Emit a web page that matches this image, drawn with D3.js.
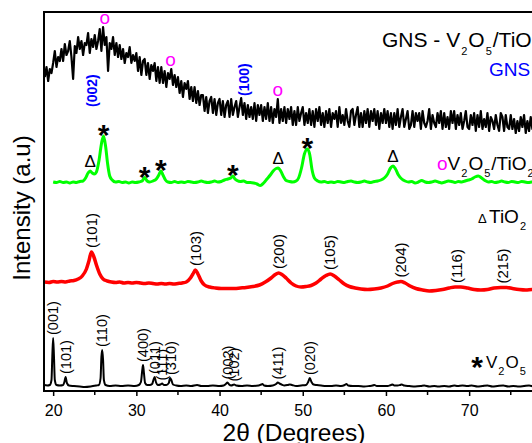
<!DOCTYPE html>
<html>
<head>
<meta charset="utf-8">
<script src="https://cdnjs.cloudflare.com/ajax/libs/d3/7.8.5/d3.min.js"></script>
<style>
  body { margin: 0; background: #fff; }
  svg { display: block; font-family: "Liberation Sans", Arial, sans-serif; }
</style>
</head>
<body>
<div id="chart"></div>
<script>
// 2-theta ticks
var majorTicks = [20, 30, 40, 50, 60, 70, 80];
var minorTicks = [25, 35, 45, 55, 65, 75];

// stacking offset of each pattern (a.u.)
var series = ["V2O5", "TiO2", "V2O5/TiO2", "GNS - V2O5/TiO2"];
var offsets = [3, 100, 205, 250];

// [2theta, intensity]
var v2o5 = [[18.9,3],[19.3,2.5],[19.6,3],[19.8,8],[19.9,32],[20.0,50],[20.1,31],[20.2,8],[20.4,3],[20.8,2.5],[21.2,3],[21.35,6],
  [21.5,11],[21.65,5],[21.9,2.5],[22.5,2],[23.2,1.5],[23.8,1],[24.5,1.5],[25.2,2.5],[25.5,3],[25.7,10],[25.8,31],[25.9,38],
  [26.0,28],[26.1,8],[26.3,3],[26.8,2],[27.5,2.5],[28.2,2],[29.0,2.5],[29.8,2],[30.3,3],[30.55,6],[30.7,17],[30.8,23],
  [30.9,16],[31.05,5],[31.3,3],[31.6,3],[31.9,4],[32.05,8],[32.2,11],[32.35,6],[32.6,3],[32.9,3.5],[33.1,4.5],[33.3,3],
  [33.6,3],[33.9,5],[34.05,10],[34.2,8],[34.4,3.5],[34.8,2.5],[35.3,2],[36.0,2.5],[36.6,2],[37.3,3],[37.8,2],[38.5,2],
  [39.2,2.5],[40.0,2],[40.5,2.5],[40.75,4],[40.95,5.5],[41.15,3.5],[41.4,2.5],[41.75,3.5],[42.0,2.5],[42.6,2],[43.3,2.5],
  [44.0,2],[44.7,2.5],[45.0,3.5],[45.15,4],[45.35,2.5],[45.8,2],[46.4,2.5],[46.8,4],[47.0,5.5],[47.2,4.5],[47.45,3.5],
  [47.8,2.5],[48.2,3],[48.45,3.5],[48.7,3],[49.2,2],[49.8,2.5],[50.4,3],[50.65,6],[50.85,10],[51.05,6],[51.3,3.5],[51.7,3],
  [52.2,2.5],[52.8,2],[53.4,2],[54.0,2.5],[54.6,2],[55.05,3],[55.25,4],[55.45,2.5],[56.0,2],[56.7,2],[57.4,1.5],[58.0,2],
  [58.4,2.5],[58.6,3],[58.9,2],[59.5,2],[60.2,2],[60.6,3],[60.8,3.5],[61.0,2.5],[61.4,2.5],[61.7,3],[61.9,3.5],[62.2,2.5],
  [62.8,2],[63.5,1.5],[64.2,2],[64.6,2.5],[65.2,1.5],[65.8,2],[66.3,1.5],[67.0,2],[67.6,1.5],[68.2,2.5],[68.6,2],[69.2,2.5],
  [69.8,2],[70.3,2.5],[71.0,1.5],[71.6,2],[72.2,2.5],[72.8,1.5],[73.4,2],[74.1,2.5],[74.7,1.5],[75.3,2],[76.0,1.5],[76.6,2],
  [77.2,2.5],[77.8,1.5],[78.5,2],[79.2,1.5],[80,2]];

var tio2 = [[18.9,9],[19.5,8.5],[20.0,9.5],[20.5,9],[21.0,9.5],[21.5,9],[22.0,10],[22.5,10.5],[23.0,12],[23.5,15],[24.0,22],
  [24.3,30],[24.6,39],[24.9,34],[25.2,26],[25.6,17],[26.0,12],[26.5,10],[27.0,9],[27.5,8.5],[28.0,9],[28.5,8],[29.0,8.5],
  [29.5,8],[30.0,8.5],[30.5,8],[31.0,7.5],[31.5,8],[32.0,7.5],[32.5,7],[33.0,7.5],[33.5,7],[34.0,7.5],[34.5,7],[35.0,7.5],
  [35.5,8],[36.0,9],[36.5,13],[36.8,17],[37.1,21],[37.4,17],[37.8,10],[38.2,6],[38.8,4],[39.5,3],[40.2,2.5],[41.0,2.5],
  [41.8,2.5],[42.5,3],[43.2,3.5],[44.0,4.5],[44.8,6],[45.5,9],[46.2,13],[46.7,16.5],[47.1,18],[47.5,16.5],[48.0,13],
  [48.6,8],[49.2,5],[49.8,4],[50.4,4.5],[51.0,5.5],[51.6,8],[52.2,12],[52.8,15.5],[53.3,17],[53.8,15],[54.4,11],[55.0,7],
  [55.6,4.5],[56.3,3],[57.0,2],[57.8,1.5],[58.6,2],[59.4,3],[60.2,5],[60.8,7.5],[61.4,9],[61.8,9.5],[62.3,8],[62.9,5],
  [63.6,2.5],[64.4,1],[65.2,0],[66.0,0.5],[66.8,1.5],[67.6,3],[68.3,4],[69.0,4],[69.8,3],[70.6,1.5],[71.4,1],[72.2,1.5],
  [73.0,3],[73.8,3.5],[74.5,3.5],[75.2,2.5],[76.0,1.5],[76.8,1],[77.6,1.5],[78.4,1],[79.2,1],[80,1]];

var vTio2 = [[20.0,4],[20.4,3.5],[20.8,4.5],[21.2,3.5],[21.6,4],[22.0,3],[22.4,4],[22.8,3.5],[23.2,4.5],[23.6,5],[23.9,8],
  [24.2,13],[24.45,15],[24.7,13],[24.95,12],[25.2,14],[25.5,25],[25.8,42],[26.05,50],[26.3,40],[26.55,22],[26.8,10],
  [27.1,6],[27.5,4],[27.9,4.5],[28.3,3.5],[28.7,4],[29.1,3],[29.5,4],[29.9,3.5],[30.3,4],[30.7,5],[31.0,8.5],[31.3,5],
  [31.6,4],[32.0,5],[32.4,7],[32.7,11],[32.95,15],[33.2,11],[33.5,6],[33.8,4],[34.2,3.5],[34.6,4.5],[35.0,3.5],[35.4,4],
  [35.8,3.5],[36.2,4.5],[36.6,4],[37.0,3.5],[37.4,4],[37.8,5],[38.2,4],[38.6,3.5],[39.0,4],[39.4,5],[39.8,4],[40.2,4.5],
  [40.6,6],[41.0,7],[41.35,8],[41.6,10],[41.85,7],[42.1,5.5],[42.5,4.5],[42.9,5],[43.3,3.5],[43.7,3.5],[44.1,3],[44.5,2],
  [44.9,0.5],[45.3,3],[45.7,7],[46.1,11],[46.5,15.5],[46.8,17.5],[47.05,18],[47.35,15],[47.7,9],[48.0,5.5],[48.4,4.5],
  [48.8,4],[49.2,5],[49.5,8],[49.85,18],[50.2,32],[50.55,37],[50.85,31],[51.1,17],[51.4,8],[51.8,5],[52.2,4],[52.6,4.5],
  [53.0,3.5],[53.4,4],[53.8,3.5],[54.2,4.5],[54.6,4],[55.0,3.5],[55.4,4.5],[55.8,5],[56.2,4],[56.6,3.5],[57.0,4],[57.4,5],
  [57.8,4],[58.2,3.5],[58.6,4.5],[59.0,5],[59.4,6],[59.8,8],[60.2,12],[60.55,18],[60.85,20],[61.15,17],[61.5,11],[61.9,7],
  [62.3,5],[62.7,4],[63.1,4.5],[63.5,3],[63.9,4],[64.3,5.5],[64.7,4],[65.1,3.5],[65.5,4],[65.9,5],[66.3,4],[66.7,3],
  [67.1,4],[67.5,5],[67.9,4.5],[68.3,3.5],[68.7,4.5],[69.1,4],[69.5,5],[69.9,6],[70.3,7],[70.7,9],[71.1,10],[71.5,8],
  [71.9,5.5],[72.3,4],[72.7,4.5],[73.1,3.5],[73.5,4],[73.9,5],[74.3,4],[74.7,3.5],[75.1,4.5],[75.5,4],[75.9,3.5],[76.3,4.5],
  [76.7,4],[77.1,3.5],[77.5,4],[78.0,4.5],[78.5,4],[79,4],[80,4]];

// GNS - V2O5/TiO2, step scan from 19 deg (5 points per degree)
var gnsStart = 19, gnsStep = 0.2;
var gns = [64,74,60,72,68, 78,90,74,84,80, 92,80,97,86,90, 100,84,62,95,88, 104,92,100,86,98,
  96,108,88,102,94, 106,92,100,112,90, 114,96,104,70,98, 92,104,86,98,84, 96,82,92,78,88,
  84,94,78,86,80, 88,70,84,66,80, 82,66,78,62,76, 70,78,60,74,58, 74,58,70,54,68,
  62,72,56,66,54, 64,48,60,44,58, 52,60,42,54,40, 54,38,50,36,46, 46,30,44,28,40,
  44,28,42,26,38, 42,26,40,24,36, 40,24,42,26,34, 40,24,34,43,26, 38,22,36,24,34,
  22,38,20,36,26, 36,20,34,22,38, 20,34,18,32,24, 42,18,32,20,34, 18,32,22,34,16,
  30,16,34,20,28, 34,16,28,18,32, 16,30,14,32,20, 34,16,28,14,30, 18,32,14,28,22,
  30,14,34,18,26, 16,32,20,14,30, 32,16,26,34,14, 28,14,30,18,32, 14,30,20,32,16,
  30,12,28,18,32, 18,30,14,28,12, 28,16,32,14,24, 32,14,22,30,12, 16,30,14,28,20,
  28,12,30,18,14, 20,32,12,26,18, 14,28,18,30,12, 28,14,24,12,30, 18,30,12,26,16,
  28,12,20,30,14, 12,26,16,28,10, 26,14,30,12,22, 14,28,10,24,20, 12,26,16,10,28,
  24,10,26,14,12, 26,12,22,8,20, 10,24,14,26,8, 20,10,24,12,26, 8,22,12,24,14,
  22,8,18,12,24, 12];

// peak labels
var v2o5Hkl = [[20.0,"(001)"],[21.5,"(101)"],[25.9,"(110)"],[30.8,"(400)"],[32.2,"(011)"],[33.1,"(111)"],[34.1,"(310)"],
  [41.0,"(002)"],[41.75,"(102)"],[47.0,"(411)"],[50.85,"(020)"]];
var tio2Hkl = [[24.6,"(101)"],[37.1,"(103)"],[47.1,"(200)"],[53.3,"(105)"],[61.8,"(204)"],[68.5,"(116)"],[74.0,"(215)"]];
var gnsHkl = [[24.7,"(002)",34],[42.9,"(100)",45]];
var starPeaks = [26.05, 31.0, 32.95, 41.6, 50.55];
var deltaPeaks = [24.45, 47.05, 60.85];
var circlePeaks = [26.2, 34.1, 47.0];

var w = 532, h = 443,
  mLeft = 44, mTop = 12, mBottom = 391;

var svg = d3.select("#chart").append("svg")
  .attr("width", w)
  .attr("height", h);

var x = d3.scaleLinear().domain([18.9, 80]).range([mLeft, mLeft + 61.1 * 8.32]);
var y = d3.scaleLinear().domain([0, 379]).range([mBottom, mTop]);

var gnsData = gns.map(function (v, i) {
  return [gnsStart + i * gnsStep, v];
});
var traces = [v2o5, tio2, vTio2, gnsData];
var colors = ["#000", "#ff0000", "#00ff00", "#000"];
var widths = [2, 3.5, 3, 2.2];

svg.append("clipPath").attr("id", "plot")
  .append("rect").attr("x", mLeft).attr("y", mTop).attr("width", w).attr("height", mBottom - mTop);

// highest point of a pattern near 2theta
function peakTop(k, x0, win) {
  var m = -Infinity;
  traces[k].forEach(function (d) {
    if (Math.abs(d[0] - x0) <= win && d[1] > m) m = d[1];
  });
  return y(offsets[k] + m);
}

//patterns
traces.forEach(function (data, k) {
  var line = d3.line()
    .x(function (d) { return x(d[0]); })
    .y(function (d) { return y(offsets[k] + d[1]); })
    .curve(k === 3 ? d3.curveLinear : d3.curveMonotoneX);
  svg.append("path")
    .datum(data)
    .attr("clip-path", "url(#plot)")
    .attr("fill", "none")
    .attr("stroke", colors[k])
    .attr("stroke-width", widths[k])
    .attr("stroke-linejoin", "round")
    .attr("d", line);
});

// frame
svg.append("path")
  .attr("fill", "none")
  .attr("stroke", "#000")
  .attr("stroke-width", 2)
  .attr("d", "M" + w + "," + mTop + "H" + mLeft + "V" + mBottom + "H" + w);

// x axis
var axis = svg.append("g").attr("transform", "translate(0," + mBottom + ")");
axis.call(d3.axisBottom(x).tickValues(majorTicks).tickSize(5).tickFormat(d3.format("d")));
axis.select(".domain").remove();
axis.selectAll(".tick line").attr("stroke-width", 1.5);
axis.selectAll(".tick text")
  .attr("font-family", "Liberation Sans, Arial, sans-serif")
  .attr("font-size", 16).attr("dy", "1.05em").attr("fill", "#000");
axis.selectAll(".minor").data(minorTicks).enter().append("line")
  .attr("x1", function (d) { return x(d); })
  .attr("x2", function (d) { return x(d); })
  .attr("y1", 0).attr("y2", 4)
  .attr("stroke", "#000").attr("stroke-width", 1.5);

svg.append("text")
  .attr("x", 294).attr("y", 441)
  .attr("text-anchor", "middle")
  .attr("font-size", 24.5)
  .text("2\u03b8 (Degrees)");

svg.append("text")
  .attr("transform", "translate(30,208) rotate(-90)")
  .attr("text-anchor", "middle")
  .attr("font-size", 24)
  .text("Intensity (a.u)");

// rotated hkl labels
function hkl(list, k, gap, size, color, weight) {
  svg.selectAll(null).data(list).enter().append("text")
    .attr("transform", function (d) {
      var yy = d.length > 2 ? y(offsets[k] + d[2]) : peakTop(k, d[0], 0.3) - gap;
      return "translate(" + x(d[0]) + "," + yy + ") rotate(-90)";
    })
    .attr("dy", "0.35em")
    .attr("font-size", size)
    .attr("font-weight", weight || "normal")
    .attr("fill", color)
    .text(function (d) { return d[1]; });
}
hkl(v2o5Hkl, 0, 3, 14.5, "#000");
hkl(tio2Hkl, 1, 4, 15, "#000");
hkl(gnsHkl, 3, 0, 14, "#0000ff", "bold");

// phase markers
svg.selectAll(null).data(starPeaks).enter().append("text")
  .attr("x", function (d) { return x(d); })
  .attr("y", function (d) { return peakTop(2, d, 0.2) + 9; })
  .attr("text-anchor", "middle")
  .attr("font-size", 30).attr("font-weight", "bold")
  .text("*");
svg.selectAll(null).data(deltaPeaks).enter().append("text")
  .attr("x", function (d) { return x(d); })
  .attr("y", function (d) { return peakTop(2, d, 0.2) - 4; })
  .attr("text-anchor", "middle")
  .attr("font-size", 17)
  .text("\u0394");
svg.selectAll(null).data(circlePeaks).enter().append("text")
  .attr("x", function (d) { return x(d); })
  .attr("y", function (d) { return peakTop(3, d, 0.4) - 3; })
  .attr("text-anchor", "middle")
  .attr("font-size", 19)
  .attr("fill", "#ff00ff")
  .text("o");

// legend texts with subscripts
function formula(t, parts, sub) {
  parts.forEach(function (p, i) {
    var s = t.append("tspan").text(p);
    if (i % 2 === 1) {
      s.attr("font-size", sub.size).attr("dy", sub.dy).attr("dx", 1);
    } else if (i > 0) {
      s.attr("dy", -sub.dy).attr("dx", 1);
    }
  });
}

var t1 = svg.append("text").attr("x", 382).attr("y", 47).attr("font-size", 21);
formula(t1, ["GNS - V", "2", "O", "5", "/TiO", "2"], {size: 11, dy: 8});
svg.append("text").attr("x", 489).attr("y", 76).attr("font-size", 19).attr("fill", "#0000ff").text("GNS");

var t2 = svg.append("text").attr("x", 437).attr("y", 170).attr("font-size", 19);
t2.append("tspan").attr("fill", "#ff00ff").text("o");
formula(t2, ["V", "2", "O", "5", "/TiO", "2"], {size: 11, dy: 7});

svg.append("text").attr("x", 478).attr("y", 223).attr("font-size", 13).text("\u0394");
var t3 = svg.append("text").attr("x", 489).attr("y", 223).attr("font-size", 19);
formula(t3, ["TiO", "2"], {size: 11, dy: 7});

svg.append("text").attr("x", 477).attr("y", 377).attr("text-anchor", "middle")
  .attr("font-size", 30).attr("font-weight", "bold").text("*");
var t4 = svg.append("text").attr("x", 486).attr("y", 368).attr("font-size", 17);
formula(t4, ["V", "2", "O", "5"], {size: 11, dy: 7});
</script>
</body>
</html>
